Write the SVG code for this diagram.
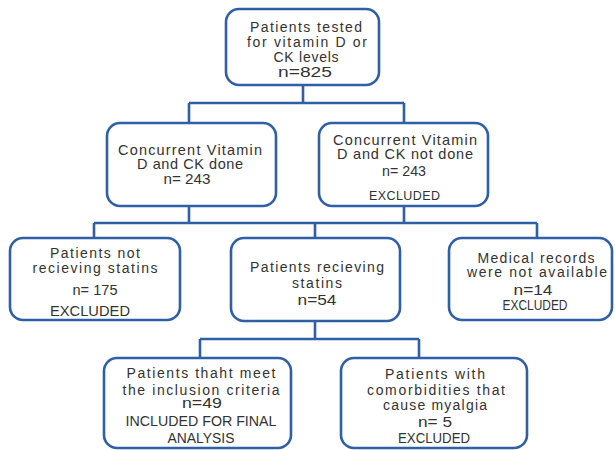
<svg xmlns="http://www.w3.org/2000/svg" width="615" height="450" viewBox="0 0 615 450">
<style>
.box{fill:#fff;stroke:#2f5fa7;stroke-width:2.6}
.con{fill:none;stroke:#2f5fa7;stroke-width:2.6}
text{font-family:"Liberation Sans",Arial,sans-serif;font-size:14px;fill:#333;text-anchor:middle}
.big{font-size:14.5px}
.sm{font-size:12.5px}
.num{font-size:15px}
</style>
<rect width="615" height="450" fill="#fff"/>
<g id="connectors" class="con">
<path d="M303 85V103M189 103H404M189 103V123M404 103V123"/>
<path d="M189 206V223M404 206V223M94 223H537M94 223V238M315 223V238M537 223V238"/>
<path d="M315 321V339M200 339H419M200 339V358M419 339V358"/>
</g>
<g id="n1">
<rect class="box" x="226" y="9" width="153" height="76" rx="13"/>
<text x="306" y="32" textLength="112" lengthAdjust="spacing">Patients tested</text>
<text x="307" y="47" textLength="120" lengthAdjust="spacing">for vitamin D or</text>
<text x="306" y="62" textLength="65" lengthAdjust="spacing">CK levels</text>
<text class="num" x="305" y="77" textLength="54" lengthAdjust="spacingAndGlyphs">n=825</text>
</g>
<g id="n2">
<rect class="box" x="107" y="123" width="169" height="83" rx="13"/>
<text class="big" x="190" y="155" textLength="144" lengthAdjust="spacing">Concurrent Vitamin</text>
<text class="big" x="190" y="169" textLength="106" lengthAdjust="spacing">D and CK done</text>
<text class="big" x="187" y="184" textLength="47" lengthAdjust="spacingAndGlyphs">n= 243</text>
</g>
<g id="n3">
<rect class="box" x="319" y="123" width="169" height="83" rx="13"/>
<text class="big" x="405" y="145" textLength="144" lengthAdjust="spacing">Concurrent Vitamin</text>
<text class="big" x="405" y="159" textLength="136" lengthAdjust="spacing">D and CK not done</text>
<text class="big" x="404" y="176" textLength="44" lengthAdjust="spacingAndGlyphs">n= 243</text>
<text class="sm" x="404.5" y="200" textLength="71" lengthAdjust="spacing">EXCLUDED</text>
</g>
<g id="n4">
<rect class="box" x="10" y="238" width="170" height="82" rx="13"/>
<text x="95" y="258" textLength="90" lengthAdjust="spacing">Patients not</text>
<text x="95" y="273" textLength="125" lengthAdjust="spacing">recieving statins</text>
<text x="95" y="295" textLength="45" lengthAdjust="spacingAndGlyphs">n= 175</text>
<text x="90" y="316" textLength="80" lengthAdjust="spacingAndGlyphs">EXCLUDED</text>
</g>
<g id="n5">
<rect class="box" x="231" y="238" width="169" height="83" rx="13"/>
<text x="317" y="272" textLength="134" lengthAdjust="spacing">Patients recieving</text>
<text x="317" y="288" textLength="50" lengthAdjust="spacing">statins</text>
<text x="317" y="305" textLength="39" lengthAdjust="spacingAndGlyphs">n=54</text>
</g>
<g id="n6">
<rect class="box" x="449" y="238" width="163" height="82" rx="13"/>
<text x="536" y="263" textLength="117" lengthAdjust="spacing">Medical records</text>
<text x="537" y="277" textLength="140" lengthAdjust="spacing">were not available</text>
<text x="533" y="295" textLength="39" lengthAdjust="spacingAndGlyphs">n=14</text>
<text x="535" y="310" textLength="65" lengthAdjust="spacingAndGlyphs">EXCLUDED</text>
</g>
<g id="n7">
<rect class="box" x="104" y="358" width="187" height="90" rx="13"/>
<text x="201" y="378" textLength="149" lengthAdjust="spacing">Patients thaht meet</text>
<text x="201" y="395" textLength="157" lengthAdjust="spacing">the inclusion criteria</text>
<text x="202" y="408" textLength="40" lengthAdjust="spacingAndGlyphs">n=49</text>
<text x="201" y="426" textLength="151" lengthAdjust="spacingAndGlyphs">INCLUDED FOR FINAL</text>
<text x="201" y="443" textLength="67" lengthAdjust="spacingAndGlyphs">ANALYSIS</text>
</g>
<g id="n8">
<rect class="box" x="341" y="358" width="186" height="90" rx="13"/>
<text x="435" y="379" textLength="100" lengthAdjust="spacing">Patients with</text>
<text x="436" y="395" textLength="138" lengthAdjust="spacing">comorbidities that</text>
<text x="435" y="410" textLength="104" lengthAdjust="spacing">cause myalgia</text>
<text x="435" y="427" textLength="34" lengthAdjust="spacingAndGlyphs">n= 5</text>
<text x="434" y="443" textLength="72" lengthAdjust="spacingAndGlyphs">EXCLUDED</text>
</g>
</svg>
